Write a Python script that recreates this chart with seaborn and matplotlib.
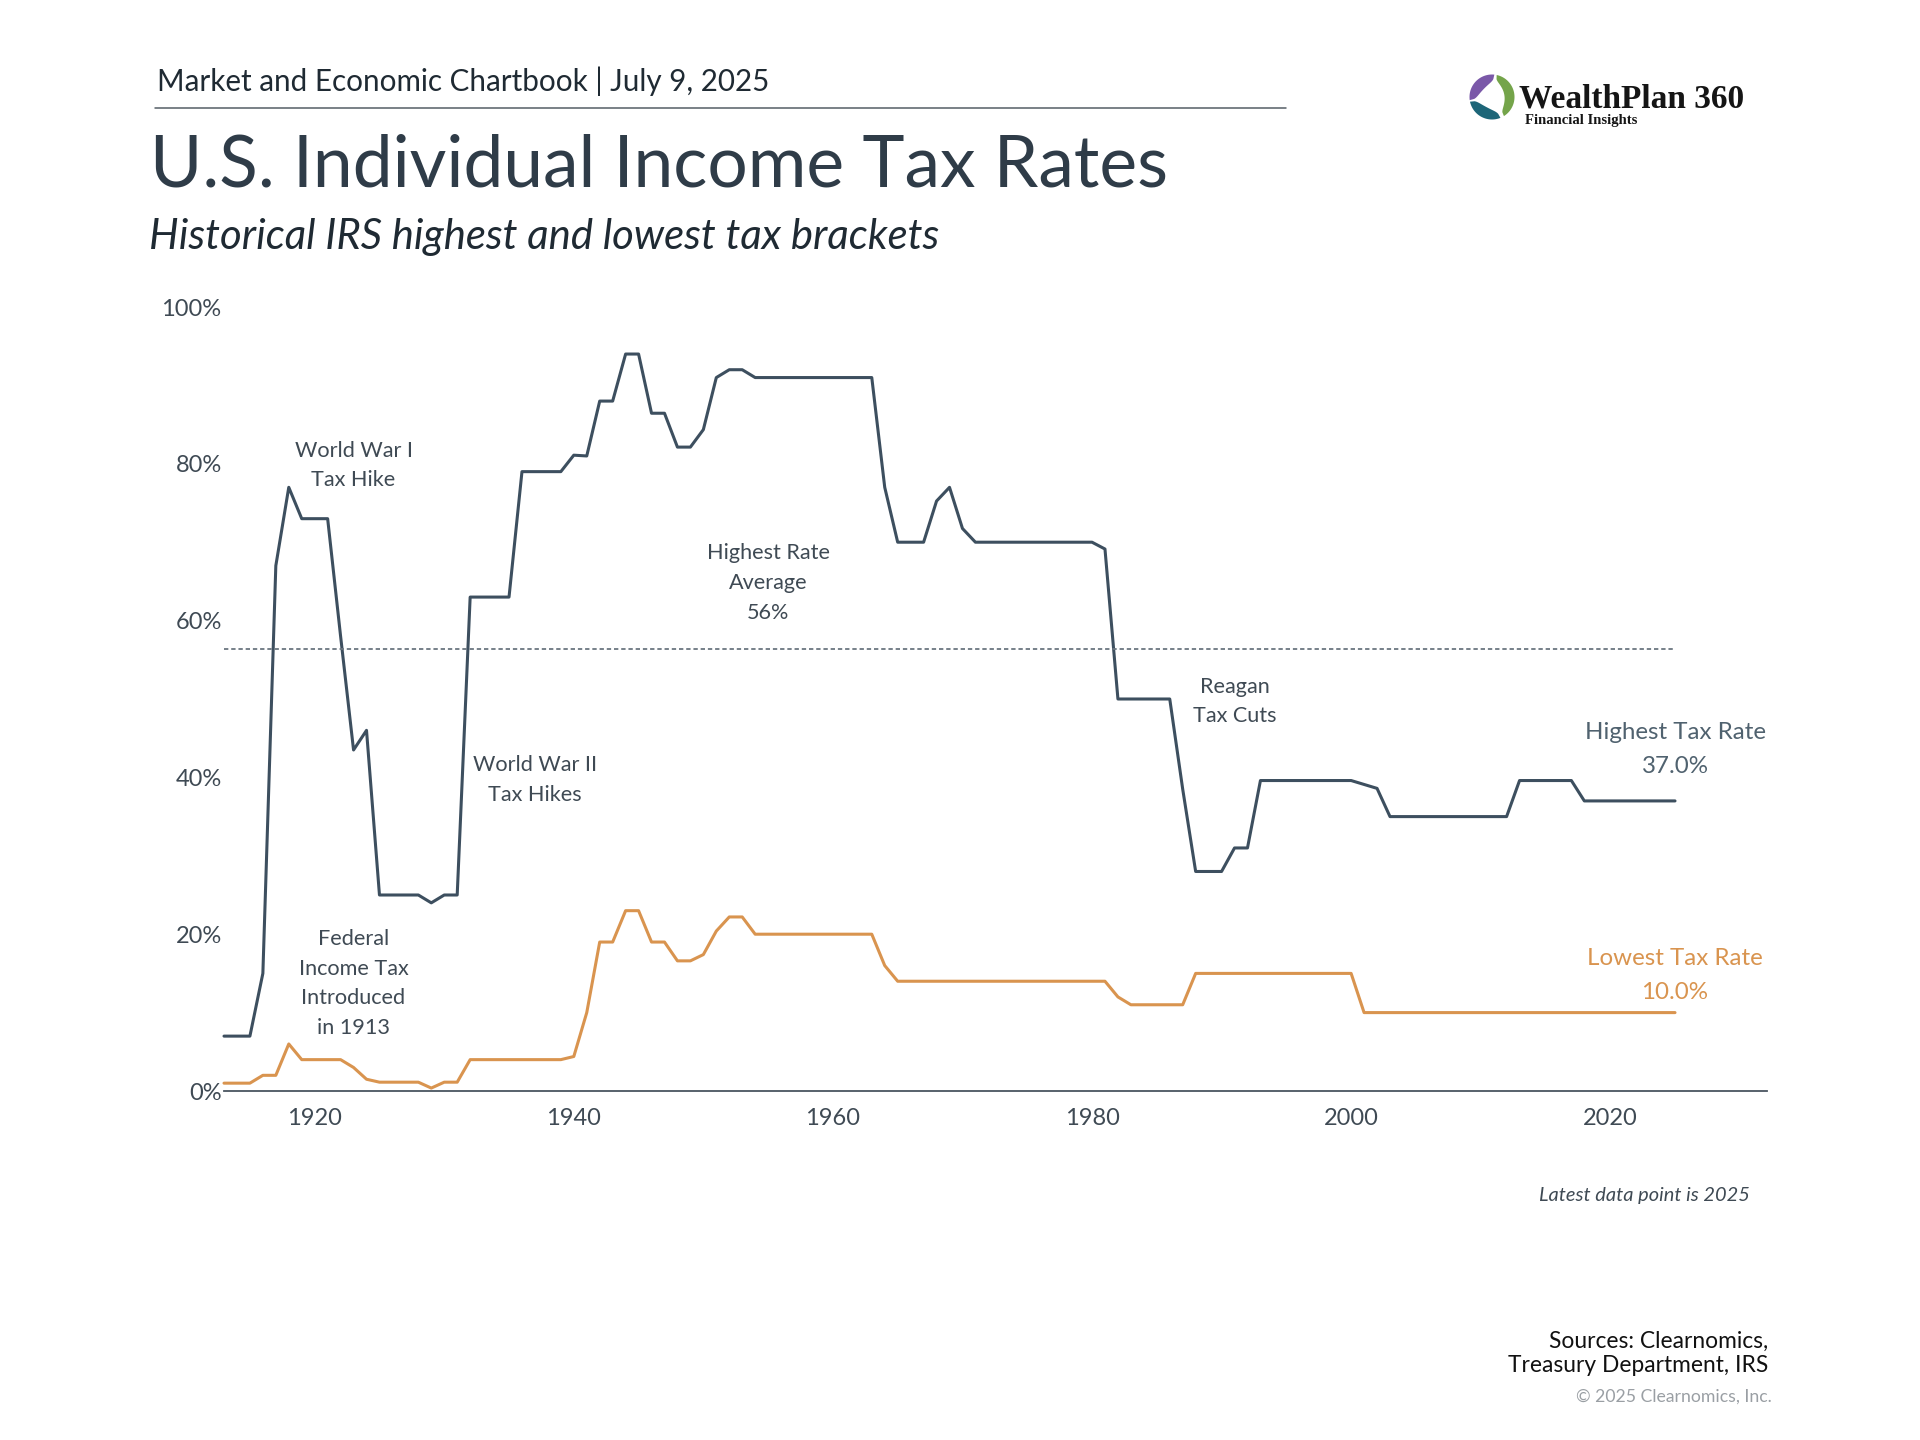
import numpy as np
import pandas as pd
import seaborn as sns
import matplotlib
matplotlib.use("Agg")
import matplotlib.pyplot as plt
from matplotlib.patches import Polygon

years = list(range(1913, 2026))
highest = [7, 7, 7, 15, 67, 77, 73, 73, 73, 58, 43.5, 46, 25, 25, 25, 25, 24, 25, 25,
           63, 63, 63, 63, 79, 79, 79, 79, 81.1, 81, 88, 88, 94, 94, 86.45, 86.45,
           82.13, 82.13, 84.36, 91, 92, 92, 91, 91, 91, 91, 91, 91, 91, 91, 91, 91,
           77, 70, 70, 70, 75.25, 77, 71.75, 70, 70, 70, 70, 70, 70, 70, 70, 70, 70,
           69.13, 50, 50, 50, 50, 50, 38.5, 28, 28, 28, 31, 31, 39.6, 39.6, 39.6, 39.6,
           39.6, 39.6, 39.6, 39.6, 39.1, 38.6, 35, 35, 35, 35, 35, 35, 35, 35, 35, 35,
           39.6, 39.6, 39.6, 39.6, 39.6, 37, 37, 37, 37, 37, 37, 37, 37]
lowest = [1, 1, 1, 2, 2, 6, 4, 4, 4, 4, 3, 1.5, 1.125, 1.125, 1.125, 1.125, 0.375, 1.125, 1.125,
          4, 4, 4, 4, 4, 4, 4, 4, 4.4, 10, 19, 19, 23, 23, 19, 19,
          16.6, 16.6, 17.4, 20.4, 22.2, 22.2, 20, 20, 20, 20, 20, 20, 20, 20, 20, 20,
          16, 14, 14, 14, 14, 14, 14, 14, 14, 14, 14, 14, 14, 14, 14, 14, 14,
          14, 12, 11, 11, 11, 11, 11, 15, 15, 15, 15, 15, 15, 15, 15, 15,
          15, 15, 15, 15, 10, 10, 10, 10, 10, 10, 10, 10, 10, 10, 10, 10,
          10, 10, 10, 10, 10, 10, 10, 10, 10, 10, 10, 10, 10]
average_rate = 56.4
x_ticks = [1920, 1940, 1960, 1980, 2000, 2020]
x_tick_labels = ["1920", "1940", "1960", "1980", "2000", "2020"]
y_ticks = [0, 20, 40, 60, 80, 100]
y_tick_labels = ["0%", "20%", "40%", "60%", "80%", "100%"]

DARK = "#3d4f5f"
ORANGE = "#d9944f"
TEXT = "#3f4a54"

sns.set_theme(style="white")
plt.rcParams["font.family"] = ["Lato", "DejaVu Sans"]

W, H = 1920, 1440
fig = plt.figure(figsize=(W / 100, H / 100), dpi=100, facecolor="white")
L, R, T, B = 224, 1767, 307, 1091
ax = fig.add_axes([L / W, 1 - B / H, (R - L) / W, (B - T) / H])

df = pd.DataFrame({"year": years, "Highest": highest, "Lowest": lowest})
long_df = df.melt("year", var_name="series", value_name="rate")
sns.lineplot(data=long_df, x="year", y="rate", hue="series",
             palette={"Highest": DARK, "Lowest": ORANGE},
             linewidth=2.2, legend=False, ax=ax, clip_on=False)
ax.plot([years[0], years[-1]], [average_rate, average_rate], color="#6b7680",
        lw=1.3, dashes=(2.4, 1.6))

ax.set_xlim(1913, 2032.1)
ax.set_ylim(0, 100)
ax.set_xticks(x_ticks, x_tick_labels)
ax.set_yticks(y_ticks, y_tick_labels)
ax.set_xlabel("")
ax.set_ylabel("")
ax.tick_params(axis="both", length=0, labelsize=17, labelcolor=TEXT)
ax.tick_params(axis="x", pad=12)
ax.tick_params(axis="y", pad=1.7)
for s in ["top", "left", "right"]:
    ax.spines[s].set_visible(False)
ax.spines["bottom"].set_color("#4a5560")
ax.spines["bottom"].set_linewidth(1.3)

ann = dict(ha="center", va="center", color=TEXT, fontsize=15.6, linespacing=1.6)
ax.text(1923, 79.8, "World War I\nTax Hike", **ann)
ax.text(1937, 39.7, "World War II\nTax Hikes", **ann)
ax.text(1923, 13.7, "Federal\nIncome Tax\nIntroduced\nin 1913", **ann)
ax.text(1955, 64.8, "Highest Rate\nAverage\n56%", **ann)
ax.text(1991, 49.7, "Reagan\nTax Cuts", **ann)
big = dict(ha="center", va="center", fontsize=17.4, linespacing=1.78)
ax.text(2025, 43.6, "Highest Tax Rate\n37.0%", color="#50626f", **big)
ax.text(2025, 14.7, "Lowest Tax Rate\n10.0%", color=ORANGE, **big)


def px(x, y, s, **kw):
    fig.text(x / W, 1 - y / H, s, **kw)


px(157, 81, "Market and Economic Chartbook | July 9, 2025", ha="left", va="center",
   fontsize=21.3, color="#1f2a33")
fig.add_artist(plt.Line2D([155 / W, 1286 / W], [1 - 107.5 / H] * 2, color="#555e66", lw=1.1))
px(150, 166, "U.S. Individual Income Tax Rates", ha="left", va="center",
   fontsize=51.3, color="#2f3c48")
px(149, 237, "Historical IRS highest and lowest tax brackets", ha="left", va="center",
   fontsize=30.2, style="italic", color="#1f2a33")
px(1750, 1196, "Latest data point is 2025", ha="right", va="center",
   fontsize=14.4, style="italic", color=TEXT)
px(1768, 1341, "Sources: Clearnomics,", ha="right", va="center", fontsize=16.4, color="#111111")
px(1768, 1366, "Treasury Department, IRS", ha="right", va="center", fontsize=16.4, color="#111111")
px(1772, 1397, "© 2025 Clearnomics, Inc.", ha="right", va="center", fontsize=12.7, color="#9a9fa4")

# logo
logo = fig.add_axes([0, 0, 1, 1], facecolor="none")
logo.set_xlim(0, W)
logo.set_ylim(H, 0)
logo.axis("off")


def swoosh(start, end, width, color, cx=1492, cy=97, r=22.5):
    t = np.linspace(0, 1, 60)
    a = np.radians(start + (end - start) * t)
    w = width * np.sin(np.pi * t) ** 0.3
    outer = np.c_[cx + r * np.cos(a), cy - r * np.sin(a)]
    inner = np.c_[cx + (r - w) * np.cos(a), cy - (r - w) * np.sin(a)]
    logo.add_patch(Polygon(np.r_[outer, inner[::-1]], closed=True, color=color, lw=0))


swoosh(84, 188, 11, "#7a58a8")
swoosh(78, -58, 10, "#74a44a")
swoosh(192, 292, 11, "#1d6678")
logo.text(1519, 107, "WealthPlan 360", family=["Liberation Serif", "DejaVu Serif"], weight="bold",
          fontsize=24, color="#151515", ha="left", va="baseline")
logo.text(1525, 124, "Financial Insights", family=["Liberation Serif", "DejaVu Serif"], weight="bold",
          fontsize=10.5, color="#151515", ha="left", va="baseline")

fig.savefig("out.png", dpi=100, facecolor="white")
